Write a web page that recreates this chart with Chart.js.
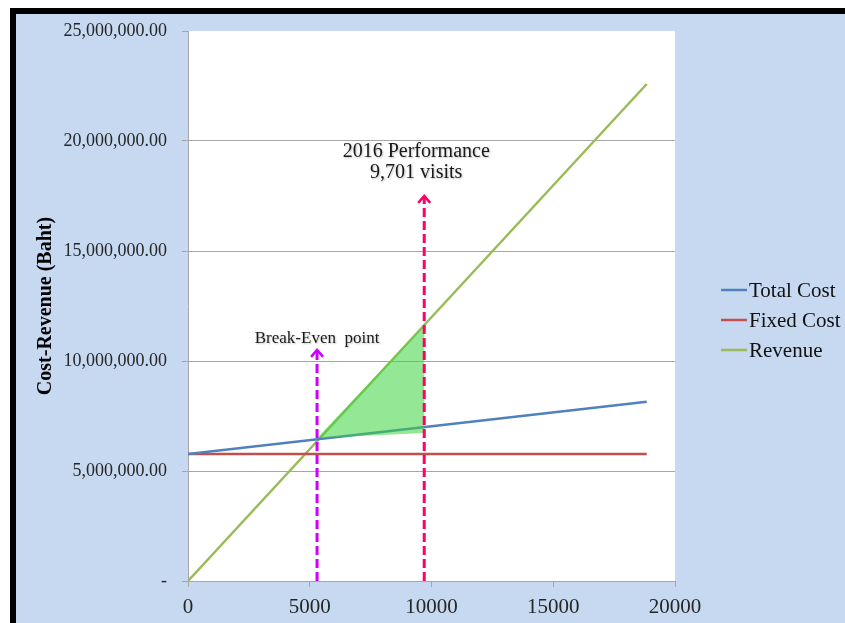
<!DOCTYPE html>
<html>
<head>
<meta charset="utf-8">
<script src="https://cdn.jsdelivr.net/npm/chart.js@4/dist/chart.umd.min.js"></script>
<style>
  html, body { margin: 0; padding: 0; background: #ffffff; }
  canvas { display: block; }
</style>
</head>
<body>
<canvas id="bep" width="845" height="623"></canvas>
<script>
// Visits (x) and the three cost/revenue series (Baht)
const visits     = [0, 18840];
const totalCost  = [5770000, 8150000];
const fixedCost  = [5770000, 5770000];
const revenue    = [0, 22590000];

const seriesNames  = ['Total Cost', 'Fixed Cost', 'Revenue'];
const seriesColors = ['#4F81BD', '#C0504D', '#9BBB59'];

// Axis ticks
const xTicks = [0, 5000, 10000, 15000, 20000];
const yTicks = [0, 5000000, 10000000, 15000000, 20000000, 25000000];

// Annotations
const breakEvenVisits = 5300;
const breakEvenArrowTop = 10550000;
const breakEvenLabel = 'Break-Even  point';
const perfVisits = 9701;
const perfArrowTop = 17550000;
const perfLabel = ['2016 Performance', '9,701 visits'];

// Profit region between break-even and 2016 performance
const profitX = [5300, 9701, 9701];
const profitY = [6500000, 11630000, 6730000];

const SERIF = '"Liberation Serif", "Times New Roman", serif';

function fmtMoney(v) {
  if (v === 0) return '-';
  return v.toLocaleString('en-US', { minimumFractionDigits: 2, maximumFractionDigits: 2 });
}

const backdrop = {
  id: 'backdrop',
  beforeDraw(chart) {
    const { ctx, width, height, chartArea: a } = chart;
    ctx.save();
    ctx.fillStyle = '#ffffff';
    ctx.fillRect(0, 0, width, height);
    ctx.fillStyle = '#C6D9F0';
    ctx.fillRect(10, 8, width - 10, height - 8);
    ctx.fillStyle = '#000000';
    ctx.fillRect(10, 8, width - 10, 6);
    ctx.fillRect(10, 8, 6, height - 8);
    ctx.fillStyle = '#ffffff';
    ctx.fillRect(a.left, a.top, a.right - a.left, a.bottom - a.top);
    ctx.restore();
  }
};

function arrow(ctx, x, yBottom, yTop, color) {
  ctx.save();
  ctx.strokeStyle = color;
  ctx.lineWidth = 3;
  ctx.setLineDash([9, 4]);
  ctx.beginPath();
  ctx.moveTo(x, yBottom);
  ctx.lineTo(x, yTop + 2);
  ctx.stroke();
  ctx.setLineDash([]);
  ctx.lineWidth = 2.5;
  ctx.lineJoin = 'miter';
  ctx.beginPath();
  ctx.moveTo(x - 6, yTop + 8);
  ctx.lineTo(x, yTop + 1);
  ctx.lineTo(x + 6, yTop + 8);
  ctx.stroke();
  ctx.restore();
}

const overlays = {
  id: 'overlays',
  afterDatasetsDraw(chart) {
    const { ctx, scales: { x, y } } = chart;
    ctx.save();
    // profit triangle
    ctx.fillStyle = 'rgba(60, 212, 60, 0.55)';
    ctx.beginPath();
    profitX.forEach((vx, i) => {
      const px = x.getPixelForValue(vx), py = y.getPixelForValue(profitY[i]);
      if (i === 0) ctx.moveTo(px, py); else ctx.lineTo(px, py);
    });
    ctx.closePath();
    ctx.fill();

    // arrows
    const y0 = y.getPixelForValue(0);
    arrow(ctx, x.getPixelForValue(breakEvenVisits), y0, y.getPixelForValue(breakEvenArrowTop), '#CC00FF');
    arrow(ctx, x.getPixelForValue(perfVisits), y0, y.getPixelForValue(perfArrowTop), '#FF0066');

    // labels
    ctx.fillStyle = '#1a1a1a';
    ctx.textAlign = 'center';
    ctx.textBaseline = 'middle';
    ctx.shadowColor = 'rgba(0,0,0,0.25)';
    ctx.shadowBlur = 2;
    ctx.shadowOffsetX = 1;
    ctx.shadowOffsetY = 1;
    ctx.font = '17px ' + SERIF;
    ctx.fillText(breakEvenLabel, x.getPixelForValue(breakEvenVisits), y.getPixelForValue(breakEvenArrowTop) - 10);
    ctx.font = '20px ' + SERIF;
    const px = x.getPixelForValue(perfVisits);
    const top = y.getPixelForValue(perfArrowTop);
    ctx.fillText(perfLabel[0], px - 8, top - 43);
    ctx.fillText(perfLabel[1], px - 8, top - 22);
    ctx.restore();
  },
  afterDraw(chart) {
    // legend on the right
    const { ctx } = chart;
    ctx.save();
    ctx.font = '21px ' + SERIF;
    ctx.textAlign = 'left';
    ctx.textBaseline = 'middle';
    chart.data.datasets.forEach((ds, i) => {
      const cy = 290 + i * 30;
      ctx.strokeStyle = ds.borderColor;
      ctx.lineWidth = 2.5;
      ctx.beginPath();
      ctx.moveTo(721, cy);
      ctx.lineTo(747, cy);
      ctx.stroke();
      ctx.fillStyle = '#111111';
      ctx.fillText(ds.label, 749, cy + 1);
    });
    ctx.restore();
  }
};

const seriesValues = [totalCost, fixedCost, revenue];
const datasets = seriesNames.map((name, i) => ({
  label: name,
  data: visits.map((v, j) => ({ x: v, y: seriesValues[i][j] })),
  borderColor: seriesColors[i],
  backgroundColor: seriesColors[i],
  borderWidth: 2.5,
  pointRadius: 0,
  showLine: true,
  tension: 0
}));

new Chart(document.getElementById('bep'), {
  type: 'scatter',
  data: { datasets },
  options: {
    responsive: false,
    animation: false,
    devicePixelRatio: 1,
    layout: { padding: { left: 16, top: 31, right: 170, bottom: 0 } },
    plugins: { legend: { display: false }, tooltip: { enabled: false } },
    scales: {
      x: {
        type: 'linear',
        min: 0, max: 20000,
        afterBuildTicks(scale) { scale.ticks = xTicks.map(v => ({ value: v })); },
        afterFit(scale) { scale.height = 42; },
        grid: { drawOnChartArea: false, drawTicks: true, tickLength: 6, color: '#A6A6A6' },
        border: { color: '#A6A6A6', width: 1 },
        ticks: {
          padding: 8,
          color: '#262626',
          font: { family: SERIF, size: 21 },
          callback: v => String(v)
        }
      },
      y: {
        type: 'linear',
        min: 0, max: 25000000,
        afterBuildTicks(scale) { scale.ticks = yTicks.map(v => ({ value: v })); },
        afterFit(scale) { scale.width = 172; },
        grid: {
          color: ctx => (ctx.tick && ctx.tick.value === 25000000) ? 'rgba(0,0,0,0)' : '#A6A6A6',
          tickColor: '#A6A6A6',
          tickLength: 6,
          lineWidth: 1
        },
        border: { color: '#A6A6A6', width: 1 },
        ticks: {
          padding: 15,
          color: '#262626',
          font: { family: SERIF, size: 18 },
          callback: v => fmtMoney(v)
        },
        title: {
          display: true,
          text: 'Cost-Revenue (Baht)',
          color: '#000000',
          font: { family: SERIF, size: 20, weight: 'bold' },
          padding: { top: 18, bottom: 0 }
        }
      }
    }
  },
  plugins: [backdrop, overlays]
});
</script>
</body>
</html>
